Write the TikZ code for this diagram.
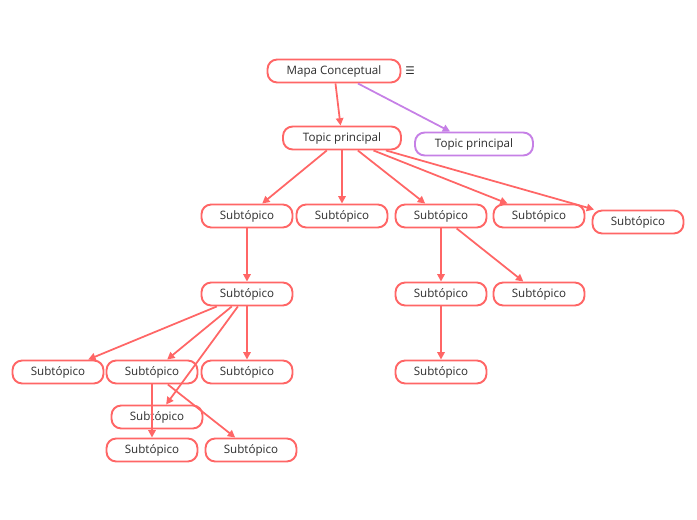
\documentclass[tikz,border=0pt]{standalone}
\usepackage{fontspec}
\setmainfont{Open Sans}
\newfontfamily\symfont{DejaVu Sans}
\usepackage{xcolor}
\usetikzlibrary{arrows.meta,positioning}

\definecolor{mapred}{RGB}{255,102,102}
\definecolor{mappurple}{RGB}{198,128,230}
\definecolor{maptext}{RGB}{45,45,45}

\begin{document}
\begin{tikzpicture}[
    x=0.02cm, y=-0.02cm,
    topic/.style={rectangle, draw=mapred, line width=1.1pt, rounded corners=5.5pt, fill=white,
        text=maptext, font=\fontsize{6.6}{8}\selectfont, minimum width=2.36cm, minimum height=0.46cm, inner sep=0pt},
    subtopic/.style={topic, minimum width=1.82cm},
    central/.style={topic, minimum width=2.66cm},
    floating/.style={topic, draw=mappurple},
    arrow/.style={-{Triangle[length=4.2pt,width=4.2pt]}, line width=1pt, draw=mapred},
    purplearrow/.style={arrow, draw=mappurple}
]
\useasboundingbox (0,0) rectangle (697,520);

% Central topic
\node[central] (map) at (334,71) {Mapa Conceptual};
\node[text=maptext, font=\symfont\fontsize{6}{7}\selectfont] (menu) at (410,71) {☰};

% Main topics
\node[topic] (tp) at (342,138) {Topic principal};
\node[floating] (ftp) at (474,144) {Topic principal};

% First level
\node[subtopic] (s1) at (247,216) {Subtópico};
\node[subtopic] (s2) at (342,216) {Subtópico};
\node[subtopic] (s3) at (441,216) {Subtópico};
\node[subtopic] (s4) at (539,216) {Subtópico};
\node[subtopic] (s5) at (638,222) {Subtópico};

% Second level
\node[subtopic] (s6) at (247,294) {Subtópico};
\node[subtopic] (s7) at (441,294) {Subtópico};
\node[subtopic] (s8) at (539,294) {Subtópico};

% Third level
\node[subtopic] (s9) at (58,372) {Subtópico};
\node[subtopic] (s10) at (152,372) {Subtópico};
\node[subtopic] (s11) at (247,372) {Subtópico};
\node[subtopic] (s12) at (441,372) {Subtópico};

% Fourth level
\node[subtopic] (s13) at (157,417) {Subtópico};
\node[subtopic] (s14) at (152,450) {Subtópico};
\node[subtopic] (s15) at (251,450) {Subtópico};

% Arrows
\draw[arrow] (map) -- (tp);
\draw[purplearrow] (map) -- (ftp);

\draw[arrow] (tp) -- (s1);
\draw[arrow] (tp) -- (s2);
\draw[arrow] (tp) -- (s3);
\draw[arrow] (tp) -- (s4);
\draw[arrow] (tp) -- (s5);

\draw[arrow] (s1) -- (s6);
\draw[arrow] (s3) -- (s7);
\draw[arrow] (s3) -- (s8);
\draw[arrow] (s7) -- (s12);

\draw[arrow] (s6) -- (s9);
\draw[arrow] (s6) -- (s10);
\draw[arrow] (s6) -- (s13);
\draw[arrow] (s6) -- (s11);

\draw[arrow] (s10) -- (s14);
\draw[arrow] (s10) -- (s15);

\end{tikzpicture}
\end{document}
